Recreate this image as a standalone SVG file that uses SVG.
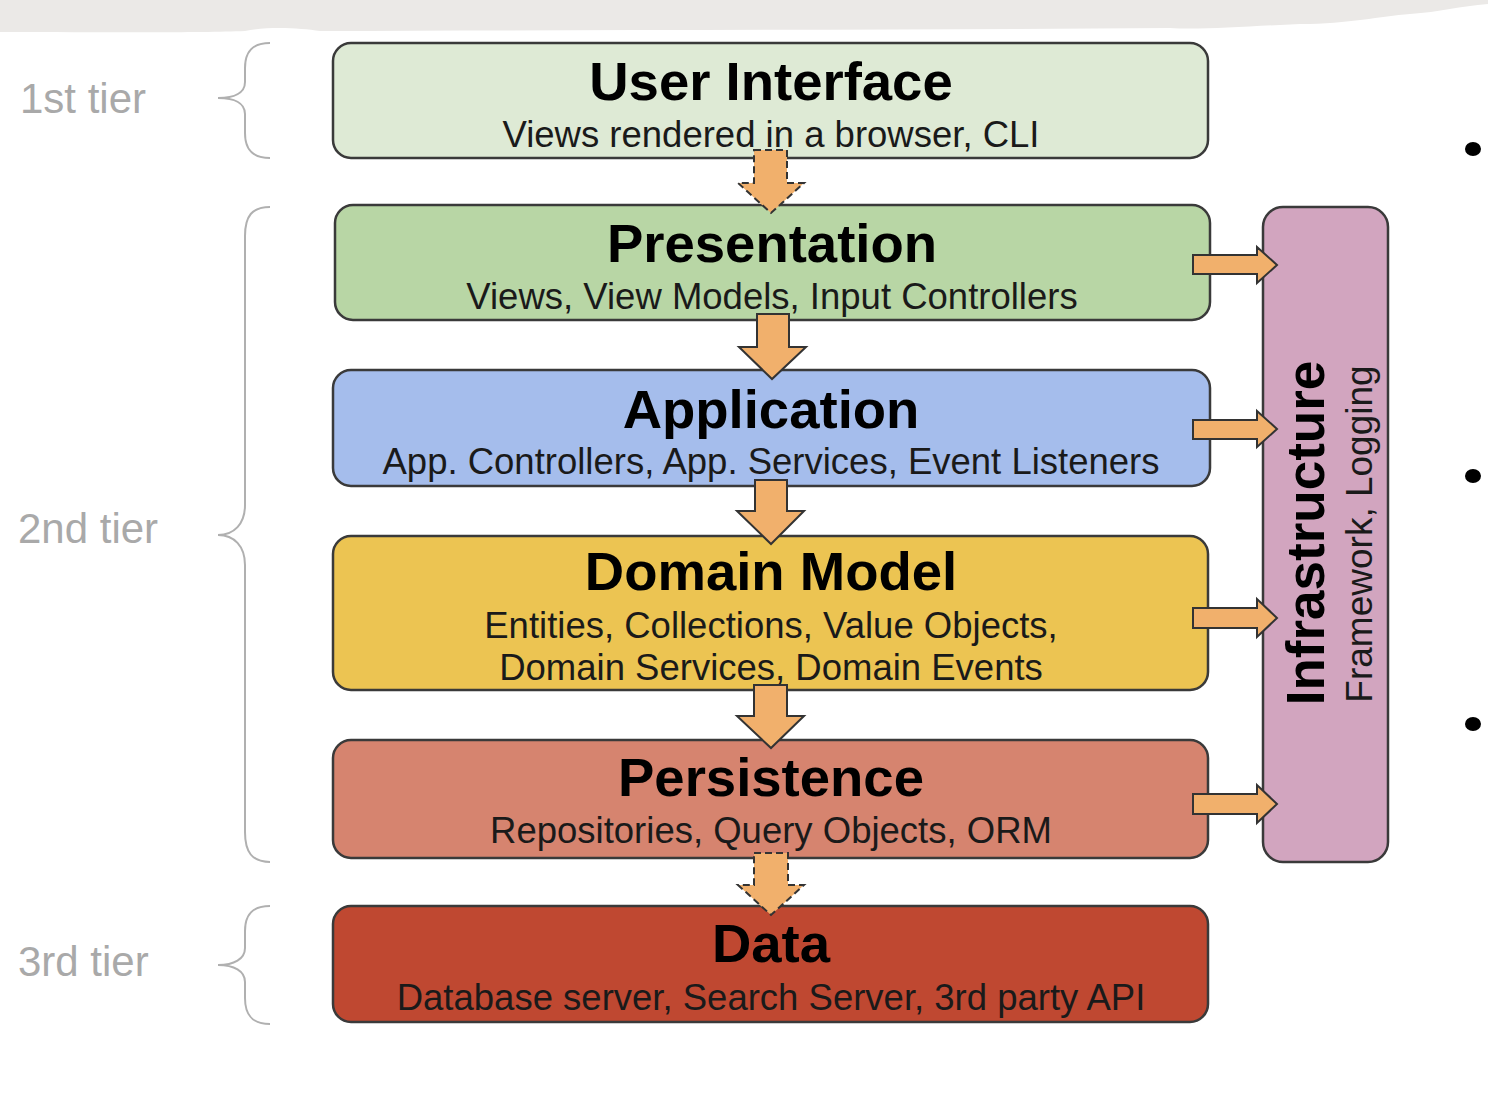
<svg xmlns="http://www.w3.org/2000/svg" width="1488" height="1098" viewBox="0 0 1488 1098">
<style>
.box{stroke:#3a3a3a;stroke-width:2.5}
.t{font-family:"Liberation Sans",Arial,sans-serif;font-weight:bold;font-size:54.5px;fill:#000;text-anchor:middle}
.s{font-family:"Liberation Sans",Arial,sans-serif;font-size:36.5px;fill:#1a1a1a;text-anchor:middle}
.tier{font-family:"Liberation Sans",Arial,sans-serif;font-size:42px;fill:#a9a9a9}
.brace{fill:none;stroke:#b0b0b0;stroke-width:2}
.arr{fill:#f1b06c;stroke:#333;stroke-width:2;stroke-linejoin:miter}
.dash{stroke-dasharray:7 4}
</style>
<rect width="1488" height="1098" fill="#ffffff"/>
<path d="M0,0 L1488,0 L1488,4 C1460,6 1440,12 1410,14 C1380,16 1350,24 1300,24 C1250,26 1200,30 1170,28 C900,30 600,30 320,31 C300,28 270,26 245,31 C200,33 100,32 0,32 Z" fill="#ebe9e7"/>

<g id="tiers">
<text class="tier" x="20" y="113">1st tier</text>
<text class="tier" x="18" y="543">2nd tier</text>
<text class="tier" x="18" y="976">3rd tier</text>
<path class="brace" d="M270,43 C252,43 245,52 245,68 L245,82 C245,93 234,98 218,98 C234,98 245,103 245,114 L245,133 C245,149 252,158 270,158"/>
<path class="brace" d="M270,207 C252,207 245,216 245,236 L245,505 C245,524 234,535 218,535 C234,535 245,546 245,565 L245,832 C245,852 252,862 270,862"/>
<path class="brace" d="M270,906 C252,906 245,915 245,931 L245,948 C245,959 234,965 218,965 C234,965 245,971 245,982 L245,998 C245,1015 252,1024 270,1024"/>
</g>

<g id="user-interface">
<rect class="box" x="333" y="43" width="875" height="115" rx="18" fill="#deead5"/>
<text class="t" x="771" y="100">User Interface</text>
<text class="s" x="771" y="147">Views rendered in a browser, CLI</text>
</g>
<g id="presentation">
<rect class="box" x="335" y="205" width="875" height="115" rx="18" fill="#b8d6a5"/>
<text class="t" x="772" y="262">Presentation</text>
<text class="s" x="772" y="309">Views, View Models, Input Controllers</text>
</g>
<g id="application">
<rect class="box" x="333" y="370" width="877" height="116" rx="18" fill="#a5bdec"/>
<text class="t" x="771" y="428">Application</text>
<text class="s" x="771" y="474">App. Controllers, App. Services, Event Listeners</text>
</g>
<g id="domain-model">
<rect class="box" x="333" y="536" width="875" height="154" rx="18" fill="#ecc452"/>
<text class="t" x="771" y="590">Domain Model</text>
<text class="s" x="771" y="638">Entities, Collections, Value Objects,</text>
<text class="s" x="771" y="680">Domain Services, Domain Events</text>
</g>
<g id="persistence">
<rect class="box" x="333" y="740" width="875" height="118" rx="18" fill="#d6846f"/>
<text class="t" x="771" y="796">Persistence</text>
<text class="s" x="771" y="843">Repositories, Query Objects, ORM</text>
</g>
<g id="data">
<rect class="box" x="333" y="906" width="875" height="116" rx="18" fill="#bf4831"/>
<text class="t" x="771" y="962">Data</text>
<text class="s" x="771" y="1010">Database server, Search Server, 3rd party API</text>
</g>
<g id="infrastructure">
<rect class="box" x="1263" y="207" width="125" height="655" rx="20" fill="#d2a5bf"/>
<text class="t" style="font-size:53px" transform="translate(1324,533) rotate(-90)" x="0" y="0">Infrastructure</text>
<text class="s" style="font-size:37px" transform="translate(1372,534) rotate(-90)" x="0" y="0">Framework, Logging</text>
</g>

<g id="connectors">
<path class="arr dash" d="M754,150 L787,150 L787,183 L804,183 L771,213 L738,183 L754,183 Z"/>
<path class="arr" d="M757,314 L789,314 L789,347 L806,347 L772,379 L739,347 L757,347 Z"/>
<path class="arr" d="M755,480 L787,480 L787,511 L804,511 L771,544 L737,511 L755,511 Z"/>
<path class="arr" d="M754,685 L787,685 L787,716 L804,716 L771,748 L737,716 L754,716 Z"/>
<path class="arr dash" d="M754,853 L788,853 L788,885 L804,885 L771,915 L738,885 L754,885 Z"/>
<path class="arr" d="M1193,255 L1257,255 L1257,247 L1277,265 L1257,283 L1257,274 L1193,274 Z"/>
<path class="arr" d="M1193,420 L1257,420 L1257,411 L1277,429 L1257,447 L1257,439 L1193,439 Z"/>
<path class="arr" d="M1193,608 L1257,608 L1257,599 L1277,618 L1257,637 L1257,628 L1193,628 Z"/>
<path class="arr" d="M1193,794 L1257,794 L1257,785 L1277,804 L1257,823 L1257,814 L1193,814 Z"/>
</g>

<g id="bullets" fill="#000">
<ellipse cx="1473" cy="149" rx="8" ry="7"/>
<ellipse cx="1473" cy="476" rx="8" ry="7"/>
<ellipse cx="1473" cy="724" rx="8" ry="7"/>
</g>
</svg>
